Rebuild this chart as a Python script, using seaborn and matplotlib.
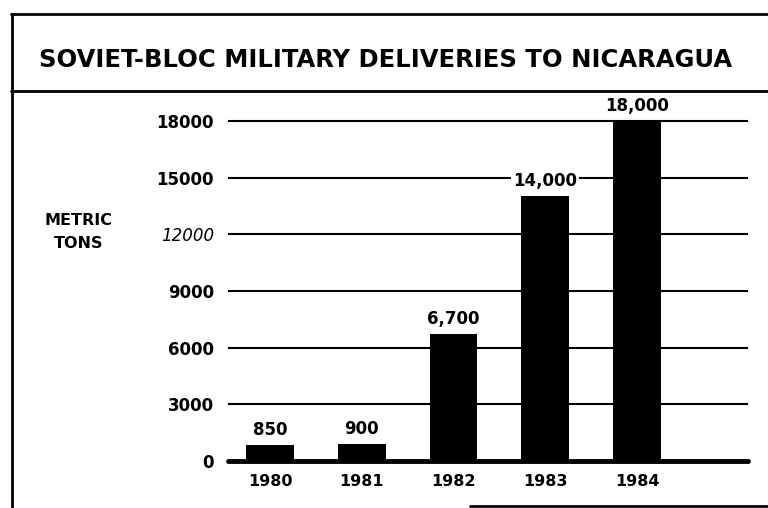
import matplotlib
matplotlib.use("Agg")
import matplotlib.pyplot as plt
from matplotlib.lines import Line2D
import seaborn as sns
import pandas as pd

years = ["1980", "1981", "1982", "1983", "1984"]
tons = [850, 900, 6700, 14000, 18000]
value_labels = ["850", "900", "6,700", "14,000", "18,000"]
yticks = [0, 3000, 6000, 9000, 12000, 15000, 18000]
title = "SOVIET-BLOC MILITARY DELIVERIES TO NICARAGUA"
ylabel = "METRIC\nTONS"

sns.set_theme(style="white")
plt.rcParams["font.family"] = ["DejaVu Sans"]
plt.rcParams["font.weight"] = "bold"
plt.rcParams["text.color"] = "black"

df = pd.DataFrame({"year": years, "tons": tons})

W, H = 768, 508
fig = plt.figure(figsize=(W / 100, H / 100), dpi=100)
ax = fig.add_axes([228 / W, 1 - 461 / H, (748 - 228) / W, (461 - 102) / H])

sns.barplot(data=df, x="year", y="tons", color="black", width=0.52,
            saturation=1, ax=ax, zorder=3, edgecolor="black", linewidth=0)

ax.set_xlim(-0.46, 5.21)
ax.set_ylim(0, 19000)
ax.set_yticks(yticks)
ax.set_yticklabels([str(v) for v in yticks])
for lab in ax.get_yticklabels():
    lab.set_fontsize(12)
    lab.set_fontweight("bold")
    lab.set_color("black")
    if lab.get_text() == "12000":
        lab.set_style("italic")
        lab.set_fontweight("normal")
for lab in ax.get_xticklabels():
    lab.set_fontsize(11.5)
    lab.set_fontweight("bold")
    lab.set_color("black")
ax.tick_params(axis="y", length=0, pad=10, colors="black")
ax.tick_params(axis="x", length=0, pad=9, colors="black")
ax.set_xlabel("")
ax.set_ylabel("")
for s in ax.spines.values():
    s.set_visible(False)

ax.yaxis.grid(True, color="black", linewidth=1.5, zorder=1)
ax.set_axisbelow(True)
ax.axhline(0, color="black", linewidth=3.5, clip_on=False, zorder=4)

for i, (v, lab) in enumerate(zip(tons, value_labels)):
    ax.annotate(lab, (i, v), xytext=(0, 4.5), textcoords="offset points",
                ha="center", va="bottom", fontsize=12, fontweight="bold",
                color="black", zorder=5,
                bbox=dict(facecolor="white", edgecolor="none", pad=1.5))

fig.text(79 / W, 1 - 232 / H, ylabel, ha="center", va="center",
         fontsize=11.5, fontweight="bold", linespacing=1.6, color="black")

fig.text(386 / W, 1 - 60 / H, title, ha="center", va="center",
         fontsize=17.5, fontweight="bold", color="black")

# frame lines
fig.add_artist(Line2D([12 / W, 12 / W], [0, 1 - 14 / H], color="black", lw=2))
fig.add_artist(Line2D([11 / W, 1], [1 - 14 / H, 1 - 14 / H], color="black", lw=2))
fig.add_artist(Line2D([11 / W, 1], [1 - 91 / H, 1 - 91 / H], color="black", lw=2))
fig.add_artist(Line2D([470 / W, 1], [1 - 506 / H, 1 - 506 / H], color="black", lw=2))

fig.savefig("out.png", dpi=100)
